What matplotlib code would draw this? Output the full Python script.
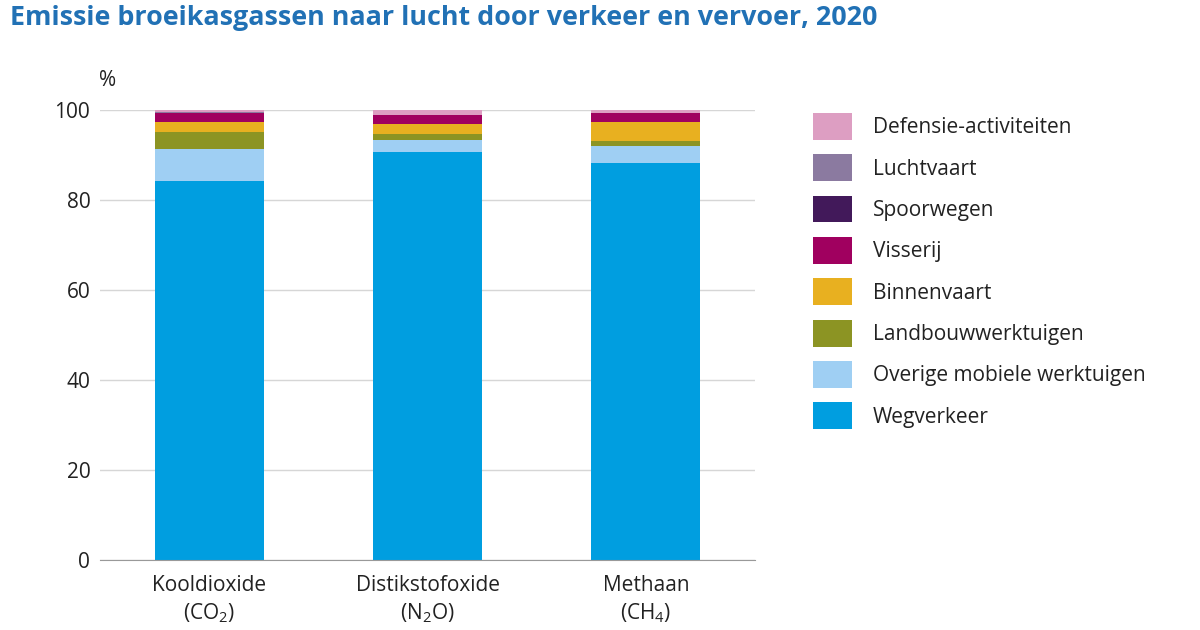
import matplotlib
matplotlib.use("Agg")
import matplotlib.pyplot as plt
import numpy as np
from matplotlib.patches import Patch

# data (percent of total per gas)
gassen = ["Kooldioxide\n(CO$_2$)", "Distikstofoxide\n(N$_2$O)", "Methaan\n(CH$_4$)"]
bronnen = ["Wegverkeer", "Overige mobiele werktuigen", "Landbouwwerktuigen",
           "Binnenvaart", "Visserij", "Spoorwegen", "Luchtvaart", "Defensie-activiteiten"]
wegverkeer = [84.2, 90.6, 88.2]
overige = [7.1, 2.8, 3.7]
landbouw = [3.8, 1.3, 1.2]
binnenvaart = [2.3, 2.2, 4.2]
visserij = [1.9, 1.9, 2.1]
spoorwegen = [0.1, 0.0, 0.0]
luchtvaart = [0.1, 0.0, 0.0]
defensie = [0.5, 1.2, 0.6]
kleuren = ["#009ee0", "#9fcff3", "#8c9423", "#e8b020", "#a0005f",
           "#42195a", "#8b7aa0", "#dd9ec2"]

plt.rcParams['font.family'] = ['Open Sans', 'DejaVu Sans']
plt.rcParams['mathtext.fontset'] = 'custom'
plt.rcParams['mathtext.rm'] = 'Open Sans'
plt.rcParams['mathtext.it'] = 'Open Sans'

fig = plt.figure(figsize=(12, 6.3), dpi=100)
ax = fig.add_axes([100 / 1200, 1 - 560 / 630, 655 / 1200, 450 / 630])

series = [wegverkeer, overige, landbouw, binnenvaart, visserij, spoorwegen, luchtvaart, defensie]
x = np.arange(len(gassen))
bottom = np.zeros(len(gassen))
for vals, kleur in zip(series, kleuren):
    ax.bar(x, vals, width=0.5, bottom=bottom, color=kleur, zorder=3)
    bottom += np.array(vals)

ax.set_xlim(-0.5, 2.5)
ax.set_ylim(0, 100)
ax.set_yticks(range(0, 101, 20))
ax.set_xticks(x)
ax.set_xticklabels(gassen, fontsize=15.5, color="#222222", linespacing=1.3)
ax.tick_params(axis='both', length=0, labelsize=15, colors="#222222")
ax.tick_params(axis='x', pad=11)
ax.tick_params(axis='y', pad=7)
ax.grid(axis='y', color="#d6d6d6", lw=1, zorder=0)
for s in ["top", "right", "left"]:
    ax.spines[s].set_visible(False)
ax.spines["bottom"].set_color("#999999")
ax.spines["bottom"].set_zorder(4)

fig.text(99 / 1200, 1 - 80 / 630, "%", fontsize=15, color="#222222", va="center")
fig.text(10 / 1200, 1 - 18 / 630, "Emissie broeikasgassen naar lucht door verkeer en vervoer, 2020",
         fontsize=19.4, fontweight="bold", color="#2171b5", va="center")

handles = [Patch(facecolor=k, edgecolor="none", label=b) for b, k in zip(bronnen, kleuren)][::-1]
fig.legend(handles=handles, loc="upper left", bbox_to_anchor=(813 / 1200, 1 - 113 / 630),
           frameon=False, fontsize=15, handlelength=1.875, handleheight=1.6,
           labelspacing=0.7, handletextpad=1.0, borderpad=0, borderaxespad=0,
           labelcolor="#222222")

fig.savefig("out.png", dpi=100)
